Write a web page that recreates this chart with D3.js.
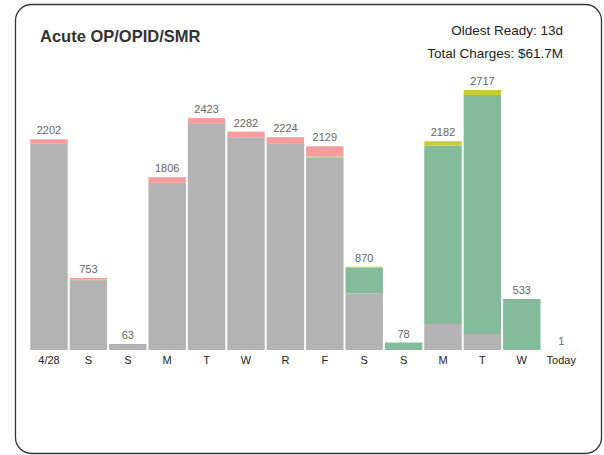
<!DOCTYPE html>
<html><head><meta charset="utf-8">
<script src="https://cdn.jsdelivr.net/npm/d3@7"></script>
<style>body{margin:0;background:#fff;}svg{display:block;}</style>
</head><body>
<svg id="c" width="604" height="455"></svg>
<script>
const categories = ["4/28","S","S","M","T","W","R","F","S","S","M","T","W","Today"];
const totals     = [2202, 753, 63, 1806, 2423, 2282, 2224, 2129, 870, 78, 2182, 2717, 533, 1];
const grayVals   = [2155, 730, 63, 1748, 2371, 2223, 2161, 1998, 592, 0, 272, 167, 0, 0];
const greenVals  = [0, 0, 0, 0, 0, 0, 0, 10, 268, 78, 1865, 2498, 533, 1];
const yellowVals = [0, 8, 0, 0, 0, 0, 0, 13, 10, 0, 45, 52, 0, 0];
const pinkVals   = [47, 15, 0, 58, 52, 59, 63, 108, 0, 0, 0, 0, 0, 0];
const seriesKeys = ["gray","green","yellow","pink"];
const seriesColors = ["#b3b3b3","#83bb9b","#cbcb32","#f59c9c"];

const rows = categories.map((c,i)=>({i, cat:c, gray:grayVals[i], green:greenVals[i], yellow:yellowVals[i], pink:pinkVals[i], total:totals[i]}));

const svg = d3.select("#c");
svg.append("rect").attr("x",15.5).attr("y",4.5).attr("width",586).attr("height",449)
  .attr("rx",16).attr("ry",16).attr("fill","#fff").attr("stroke","#333").attr("stroke-width",1.3);

const x = d3.scaleBand().domain(d3.range(categories.length)).range([29.3,580.9]).paddingInner(0.05).paddingOuter(0.025);
const y = d3.scaleLinear().domain([0,2717]).range([350,90]);
const color = d3.scaleOrdinal().domain(seriesKeys).range(seriesColors);

const stack = d3.stack().keys(seriesKeys)(rows);
svg.append("g").selectAll("g").data(stack).join("g").attr("fill",d=>color(d.key))
  .selectAll("rect").data(d=>d).join("rect")
  .attr("x",d=>x(d.data.i)).attr("width",x.bandwidth())
  .attr("y",d=>y(d[1])).attr("height",d=>Math.max(0,y(d[0])-y(d[1])));

svg.append("g").selectAll("text").data(rows).join("text")
  .attr("x",d=>x(d.i)+x.bandwidth()/2).attr("y",d=>y(d.total)-5)
  .attr("text-anchor","middle").attr("font-family","Liberation Sans, Arial, sans-serif")
  .attr("font-size",11).attr("fill","#666").text(d=>d.total);

const xAxis = d3.axisBottom(x).tickSize(0).tickPadding(0).tickFormat(i=>categories[i]);
const ax = svg.append("g").attr("transform","translate(0,356)").call(xAxis);
ax.select(".domain").remove();
ax.selectAll("text").attr("font-family","Liberation Sans, Arial, sans-serif").attr("font-size",11).attr("fill","#222").attr("dy","0.71em");

svg.append("text").attr("x",40).attr("y",42).attr("font-family","Liberation Sans, Arial, sans-serif")
  .attr("font-size",16.5).attr("font-weight","bold").attr("fill","#333").text("Acute OP/OPID/SMR");
svg.append("text").attr("x",563).attr("y",35).attr("text-anchor","end").attr("font-family","Liberation Sans, Arial, sans-serif")
  .attr("font-size",13.5).attr("fill","#222").text("Oldest Ready: 13d");
svg.append("text").attr("x",563).attr("y",57.5).attr("text-anchor","end").attr("font-family","Liberation Sans, Arial, sans-serif")
  .attr("font-size",13.5).attr("fill","#222").text("Total Charges: $61.7M");
</script>
</body></html>
